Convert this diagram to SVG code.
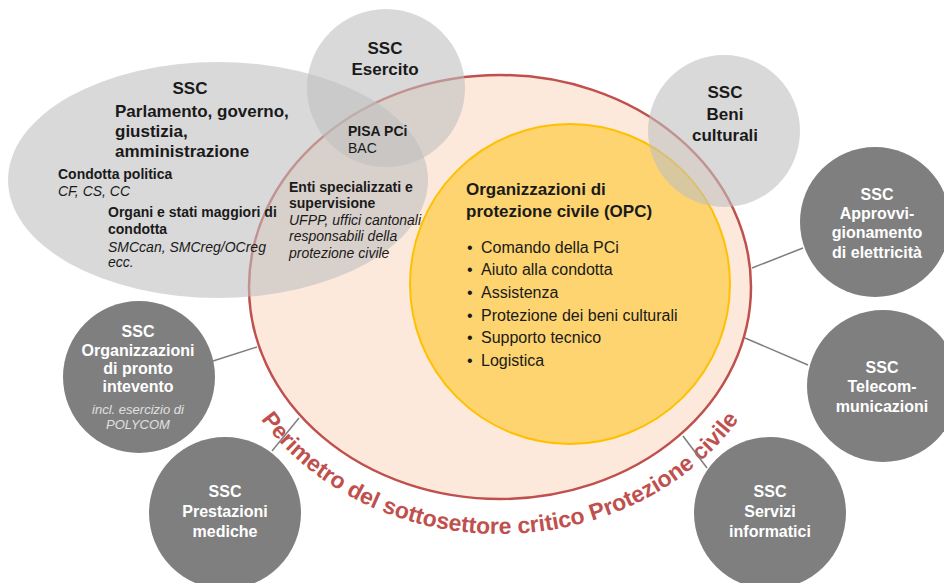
<svg xmlns="http://www.w3.org/2000/svg" xmlns:xlink="http://www.w3.org/1999/xlink" width="944" height="583" viewBox="0 0 944 583">
<style>
text{font-family:"Liberation Sans",Arial,sans-serif;fill:#1a1a1a}
.h{font-size:17px;font-weight:bold}
.b{font-size:14px;font-weight:bold}
.i{font-size:14px;font-style:italic}
.r{font-size:14px}
.w{font-size:16px;font-weight:bold;fill:#ffffff}
.wi{font-size:13px;font-style:italic;fill:#e0e0e0}
.li{font-size:16px}
.mid{text-anchor:middle}
.light{fill:#bfbfbf;fill-opacity:0.6}
.dark{fill:#7f7f7f}
.conn line{stroke:#7f7f7f;stroke-width:1.5}
.per{font-size:23px;font-weight:bold;fill:#c0504d}
</style>
<defs>
<path id="arc" d="M 217 287 A 283 247 0 0 0 783 287"/>
</defs>
<rect width="944" height="583" fill="#ffffff"/>
<g id="perimetro">
<ellipse cx="500" cy="287" rx="251" ry="212" fill="#fce9dc" stroke="#c0504d" stroke-width="2.5"/>
<text class="per"><textPath xlink:href="#arc" href="#arc" startOffset="50%" text-anchor="middle">Perimetro del sottosettore critico Protezione civile</textPath></text>
</g>
<g id="opc">
<circle cx="570" cy="284" r="160" fill="#fdd46f" stroke="#ffc000" stroke-width="2"/>
<text class="h" x="466" y="195">Organizzazioni di</text>
<text class="h" x="466" y="217">protezione civile (OPC)</text>
<g class="li">
<text x="467" y="253">•</text><text x="481" y="253">Comando della PCi</text>
<text x="467" y="275">•</text><text x="481" y="275">Aiuto alla condotta</text>
<text x="467" y="298">•</text><text x="481" y="298">Assistenza</text>
<text x="467" y="321">•</text><text x="481" y="321">Protezione dei beni culturali</text>
<text x="467" y="343">•</text><text x="481" y="343">Supporto tecnico</text>
<text x="467" y="366">•</text><text x="481" y="366">Logistica</text>
</g>
</g>
<g id="connectors" class="conn">
<line x1="213" y1="361" x2="257" y2="347"/>
<line x1="272" y1="451" x2="299" y2="418"/>
<line x1="683" y1="436" x2="707" y2="468"/>
<line x1="745" y1="338" x2="808" y2="365"/>
<line x1="752" y1="268" x2="803" y2="248"/>
</g>
<g id="ssc-parlamento">
<ellipse class="light" cx="218" cy="180" rx="210" ry="118"/>
<text class="h mid" x="190" y="94">SSC</text>
<text class="h" x="115" y="117">Parlamento, governo,</text>
<text class="h" x="115" y="137">giustizia,</text>
<text class="h" x="115" y="157">amministrazione</text>
<text class="b" x="58" y="179">Condotta politica</text>
<text class="i" x="58" y="196">CF, CS, CC</text>
<text class="b" x="108" y="217">Organi e stati maggiori di</text>
<text class="b" x="108" y="234">condotta</text>
<text class="i" x="108" y="252">SMCcan, SMCreg/OCreg</text>
<text class="i" x="108" y="267">ecc.</text>
<text class="b" x="289" y="192">Enti specializzati e</text>
<text class="b" x="289" y="208">supervisione</text>
<text class="i" x="289" y="225">UFPP, uffici cantonali</text>
<text class="i" x="289" y="241">responsabili della</text>
<text class="i" x="289" y="258">protezione civile</text>
</g>
<g id="ssc-esercito">
<circle class="light" cx="386" cy="88" r="79"/>
<text class="h mid" x="385" y="54">SSC</text>
<text class="h mid" x="385" y="75">Esercito</text>
<text class="b" x="348" y="136">PISA PCi</text>
<text class="r" x="348" y="153">BAC</text>
</g>
<g id="ssc-beni-culturali">
<circle class="light" cx="724" cy="131" r="76"/>
<text class="h mid" x="725" y="98">SSC</text>
<text class="h mid" x="725" y="120">Beni</text>
<text class="h mid" x="725" y="141">culturali</text>
</g>
<g id="ssc-elettricita">
<circle class="dark" cx="875" cy="222" r="75"/>
<text class="w mid" x="877" y="200">SSC</text>
<text class="w mid" x="877" y="219">Approvvi-</text>
<text class="w mid" x="877" y="238">gionamento</text>
<text class="w mid" x="877" y="258">di elettricità</text>
</g>
<g id="ssc-telecomunicazioni">
<circle class="dark" cx="883" cy="386" r="76"/>
<text class="w mid" x="882" y="373">SSC</text>
<text class="w mid" x="882" y="392">Telecom-</text>
<text class="w mid" x="882" y="412">municazioni</text>
</g>
<g id="ssc-servizi-informatici">
<circle class="dark" cx="770" cy="513" r="76"/>
<text class="w mid" x="770" y="497">SSC</text>
<text class="w mid" x="770" y="517">Servizi</text>
<text class="w mid" x="770" y="537">informatici</text>
</g>
<g id="ssc-pronto-intervento">
<circle class="dark" cx="139" cy="377" r="76"/>
<text class="w mid" x="138" y="337">SSC</text>
<text class="w mid" x="138" y="356">Organizzazioni</text>
<text class="w mid" x="138" y="374">di pronto</text>
<text class="w mid" x="138" y="392">intevento</text>
<text class="wi mid" x="138" y="414">incl. esercizio di</text>
<text class="wi mid" x="138" y="429">POLYCOM</text>
</g>
<g id="ssc-prestazioni-mediche">
<circle class="dark" cx="225" cy="513" r="76"/>
<text class="w mid" x="225" y="497">SSC</text>
<text class="w mid" x="225" y="517">Prestazioni</text>
<text class="w mid" x="225" y="537">mediche</text>
</g>
</svg>
